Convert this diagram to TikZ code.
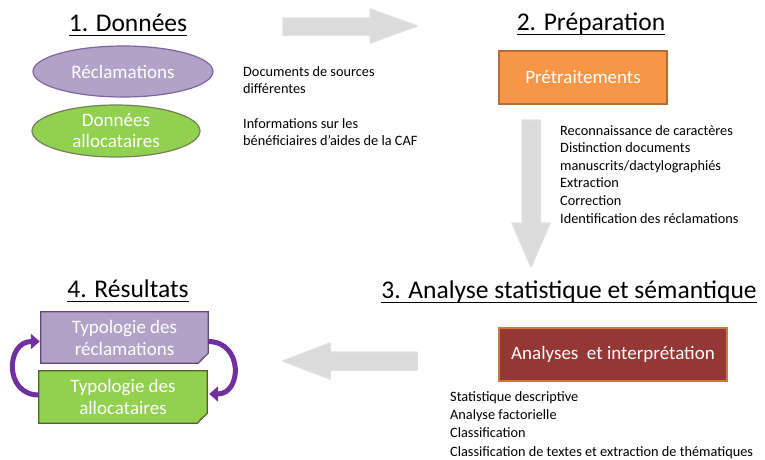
\documentclass[tikz,border=0pt]{standalone}
\usepackage{fontspec}
\setmainfont{Carlito}
\usetikzlibrary{arrows.meta,calc,shapes.geometric}
\definecolor{purpfill}{HTML}{B3A2C7}
\definecolor{purpline}{HTML}{8064A2}
\definecolor{purpdark}{HTML}{5F497A}
\definecolor{greenfill}{HTML}{92D050}
\definecolor{greenline}{HTML}{4F6228}
\definecolor{orfill}{HTML}{F79646}
\definecolor{orline}{HTML}{B66D31}
\definecolor{redfill}{HTML}{953735}
\definecolor{redline}{HTML}{D0783A}
\definecolor{arrgray}{HTML}{DBDBDB}
\definecolor{arrpurple}{HTML}{7030A0}
\pgfdeclarelayer{bg}
\pgfsetlayers{bg,main}
\tikzset{
  title/.style={inner sep=0pt, font=\fontsize{25.5}{30}\selectfont, anchor=base},
  desc/.style={inner sep=0pt, font=\fontsize{14.3}{17.6}\selectfont, align=left, anchor=north west},
  boxtext/.style={text=white, font=\fontsize{19}{22}\selectfont, align=center, inner sep=0pt},
  ell/.style={ellipse, boxtext, line width=1.2pt},
  rbox/.style={rectangle, boxtext, line width=1.2pt},
  grayarrow/.style={fill=arrgray, draw=gray!25, line width=1.5pt, line join=round},
  curv/.style={draw=arrpurple, line width=5pt, -{Triangle[width=15pt,length=9pt]}},
}
\begin{document}
\begin{tikzpicture}[x=1pt,y=-1pt]
\useasboundingbox (0,0) rectangle (765,459);

% titles
\node[title] (t1) at (128,31) {1. Données};
\node[title] (t2) at (591,30) {2. Préparation};
\node[title] (t3) at (569,298) {3. Analyse statistique et sémantique};
\node[title] (t4) at (128,297) {4. Résultats};
\foreach \t in {t1,t2,t3,t4}{
  \draw[line width=1pt] ($(\t.base west)+(0,4)$) -- ($(\t.base east)+(0,4)$);
}

% 1. Données
\node[ell, fill=purpfill, draw=purpline, minimum width=180pt, minimum height=51pt] (rec) at (123,71.5) {Réclamations};
\node[ell, fill=greenfill, draw=greenline!80, minimum width=168pt, minimum height=52pt] (all) at (116,131) {Données\\[-1pt]allocataires};
\node[desc] (d1) at (243,66) {Documents de sources\\différentes};
\node[desc] (d2) at (243,118) {Informations sur les\\bénéficiaires d’aides de la CAF};

% arrows gray
\draw[grayarrow] (283,18) -- (370,18) -- (370,9) -- (417,26) -- (370,43) -- (370,35) -- (283,35) -- cycle;
\draw[grayarrow] (522,120) -- (540,120) -- (540,223) -- (550,223) -- (531,267) -- (512,223) -- (522,223) -- cycle;
\draw[grayarrow] (417,352) -- (330,352) -- (330,343) -- (283,361) -- (330,379) -- (330,370) -- (417,370) -- cycle;

% 2. Préparation
\node[rbox, fill=orfill, draw=orline, minimum width=168pt, minimum height=53pt] (pre) at (583,77.5) {Prétraitements};
\node[desc] (d3) at (560,125) {Reconnaissance de caractères\\Distinction documents\\manuscrits/dactylographiés\\Extraction\\Correction\\Identification des réclamations};

% 3. Analyse
\node[rbox, fill=redfill, draw=redline, minimum width=228pt, minimum height=53pt] (ana) at (613,354.5) {Analyses~ et interprétation};
\node[desc, font=\fontsize{14.3}{18.3}\selectfont] (d4) at (450,391) {Statistique descriptive\\Analyse factorielle\\Classification\\Classification de textes et extraction de thématiques};

% 4. Résultats
\node[boxtext, minimum width=167pt, minimum height=51pt] (r1) at (124.5,337.5) {Typologie des\\réclamations};
\node[boxtext, minimum width=168pt, minimum height=52pt] (r2) at (123,397) {Typologie des\\allocataires};
\begin{pgfonlayer}{bg}
  \foreach \r/\f/\d in {r1/purpfill/purpdark, r2/greenfill/greenline}{
    \draw[fill=\f, draw=\d, line width=1.2pt] (\r.north west) -- (\r.north east) -- ($(\r.south east)+(0,-10)$) -- ($(\r.south east)+(-10,0)$) -- (\r.south west) -- cycle;
    \fill[\d!80] ($(\r.south east)+(0,-10)$) -- ($(\r.south east)+(-10,0)$) -- ($(\r.south east)+(-7,-5)$) -- cycle;
  }
\end{pgfonlayer}
\draw[curv] ($(r2.west)+(0,-2)$) .. controls ($(r2.west)+(-35,-2)$) and ($(r1.west)+(-35,4)$) .. ($(r1.west)+(-1,4)$);
\draw[curv] ($(r1.east)+(0,4)$) .. controls ($(r1.east)+(35,4)$) and ($(r2.east)+(35,-3)$) .. ($(r2.east)+(2,-3)$);
\end{tikzpicture}
\end{document}
